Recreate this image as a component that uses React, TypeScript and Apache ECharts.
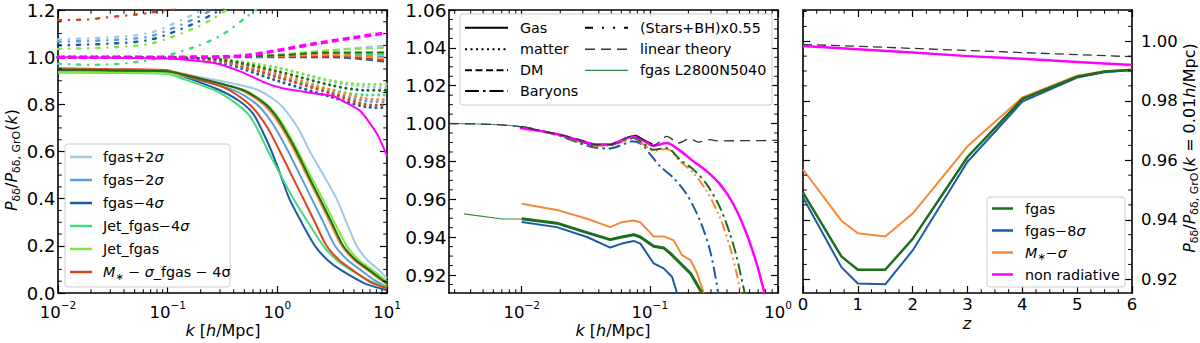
import React, { useEffect, useRef } from "react";
import * as echarts from "echarts";

const FONT = "DejaVu Sans";
const TICK_FS = 16.5;

// ================= LEFT PANEL (x = log10 k) =================
// Gas ratio (solid)
const gasFgasP2 = [[-2, 0.945], [-1.5, 0.943], [-1, 0.938], [-0.7, 0.915], [-0.2, 0.865], [0, 0.81], [0.1, 0.76], [0.2, 0.69], [0.297, 0.6], [0.42, 0.5], [0.54, 0.4], [0.63, 0.3], [0.723, 0.2], [0.82, 0.14], [0.92, 0.1], [1, 0.063]];
const gasFgasM2 = [[-2, 0.945], [-1.5, 0.943], [-1, 0.938], [-0.85, 0.92], [-0.4, 0.86], [-0.2, 0.805], [-0.1, 0.755], [0.0, 0.685], [0.1, 0.6], [0.207, 0.5], [0.313, 0.4], [0.42, 0.3], [0.525, 0.2], [0.64, 0.14], [0.753, 0.1], [0.9, 0.05], [1, 0.025]];
const gasFgasM4 = [[-2, 0.945], [-1.5, 0.942], [-1, 0.936], [-0.9, 0.925], [-0.55, 0.865], [-0.35, 0.815], [-0.22, 0.76], [-0.14, 0.69], [-0.052, 0.6], [0.03, 0.5], [0.109, 0.4], [0.22, 0.3], [0.343, 0.2], [0.457, 0.14], [0.571, 0.1], [0.8, 0.04], [1, 0.012]];
const gasJetM4 = [[-2, 0.935], [-1.5, 0.933], [-1, 0.93], [-0.9, 0.915], [-0.55, 0.855], [-0.38, 0.805], [-0.26, 0.755], [-0.17, 0.685], [-0.083, 0.6], [0.03, 0.5], [0.146, 0.4], [0.28, 0.3], [0.419, 0.2], [0.54, 0.14], [0.662, 0.1], [0.85, 0.05], [1, 0.025]];
const gasJet = [[-2, 0.935], [-1.5, 0.934], [-1, 0.932], [-0.8, 0.915], [-0.3, 0.86], [-0.11, 0.805], [-0.01, 0.755], [0.09, 0.685], [0.19, 0.6], [0.3, 0.5], [0.413, 0.4], [0.52, 0.3], [0.632, 0.2], [0.745, 0.14], [0.86, 0.1], [1, 0.05]];
const gasMstarFgasM4 = [[-2, 0.953], [-1.5, 0.949], [-1, 0.945], [-0.9, 0.93], [-0.48, 0.87], [-0.28, 0.81], [-0.176, 0.76], [-0.076, 0.69], [0.024, 0.6], [0.13, 0.5], [0.237, 0.4], [0.343, 0.3], [0.449, 0.2], [0.563, 0.14], [0.677, 0.1], [0.85, 0.045], [1, 0.02]];
const gasMstar = [[-2, 0.95], [-1.5, 0.946], [-1, 0.941], [-0.8, 0.922], [-0.34, 0.862], [-0.14, 0.805], [-0.04, 0.755], [0.06, 0.685], [0.16, 0.6], [0.267, 0.5], [0.374, 0.4], [0.48, 0.3], [0.586, 0.2], [0.7, 0.14], [0.814, 0.1], [1, 0.035]];
const gasFgas = [[-2, 0.948], [-1.5, 0.945], [-1, 0.94], [-0.8, 0.92], [-0.32, 0.862], [-0.12, 0.805], [-0.02, 0.755], [0.076, 0.685], [0.176, 0.6], [0.28, 0.5], [0.388, 0.4], [0.495, 0.3], [0.6, 0.2], [0.715, 0.14], [0.83, 0.1], [1, 0.04]];
const gasNonRad = [[-2, 1.0], [-1, 0.994], [-0.58, 0.975], [-0.34, 0.94], [-0.1, 0.89], [0.056, 0.867], [0.208, 0.856], [0.36, 0.845], [0.51, 0.835], [0.6, 0.814], [0.757, 0.772], [0.91, 0.674], [1, 0.582]];

// Matter ratio (dotted) sampled at kMat
const kMat = [-2, -1, -0.5, 0, 0.5, 0.8, 1];
const matFgasP2 = [1.0, 0.998, 0.99, 0.955, 0.895, 0.875, 0.87];
const matFgasM2 = [1.0, 0.997, 0.985, 0.925, 0.85, 0.815, 0.81];
const matFgasM4 = [1.0, 0.996, 0.975, 0.9, 0.83, 0.79, 0.785];
const matJetM4 = [1.0, 0.997, 0.98, 0.915, 0.86, 0.84, 0.84];
const matJet = [1.0, 0.998, 0.99, 0.955, 0.9, 0.885, 0.885];
const matMstarFgasM4 = [1.0, 0.997, 0.982, 0.915, 0.845, 0.8, 0.795];
const matMstar = [1.0, 0.997, 0.985, 0.93, 0.86, 0.825, 0.82];
const matFgas = [1.0, 0.998, 0.988, 0.94, 0.88, 0.86, 0.86];

// DM ratio (dashed) sampled at kDM
const kDM = [-2, -1, -0.5, 0, 0.5, 1];
const dmFgasP2 = [1, 1, 1, 1.01, 1.03, 1.05];
const dmJet = [1, 1, 1, 1.01, 1.03, 1.04];
const dmFgas = [1, 1, 1, 1.008, 1.02, 1.02];
const dmJetM4 = [1, 1, 1, 1.005, 1.015, 1.01];
const dmMstar = [1, 1, 1, 1.005, 1.01, 0.995];
const dmFgasM2 = [1, 1, 1, 1.005, 1.012, 1.0];
const dmMstarFgasM4 = [1, 1, 1, 1.003, 1.005, 0.985];
const dmFgasM4 = [1, 1, 1, 1.0, 1.0, 0.98];
const dmNonRad = [[-2, 1.0], [-1, 1.0], [-0.5, 1.002], [-0.25, 1.009], [0.358, 1.058], [0.66, 1.08], [1.0, 1.104]];

// (Stars+BH) ratio (sparse dash-dot-dot)
const starsFgasP2 = [[-2, 1.075], [-1.5, 1.085], [-1.15, 1.105], [-0.77, 1.18], [-0.6, 1.22]];
const starsFgasM2 = [[-2, 1.065], [-1.5, 1.073], [-1.15, 1.09], [-0.77, 1.16], [-0.6, 1.2], [-0.5, 1.23]];
const starsFgasM4 = [[-2, 1.05], [-1.5, 1.058], [-1.15, 1.075], [-0.77, 1.14], [-0.6, 1.18], [-0.45, 1.22]];
const starsJet = [[-2, 1.035], [-1.5, 1.042], [-1.15, 1.058], [-0.77, 1.12], [-0.6, 1.16], [-0.4, 1.22]];
const starsJetM4 = [[-2, 0.972], [-1.7, 0.967], [-1.2, 0.985], [-0.75, 1.044], [-0.5, 1.096], [-0.27, 1.175], [-0.15, 1.22]];
const starsMstarFgasM4 = [[-2, 1.157], [-1.72, 1.16], [-1.59, 1.167], [-1.3, 1.18], [-1.15, 1.189], [-0.9, 1.21]];

// ================= MIDDLE PANEL (x = log10 k) =================
const midLinear = [[-2.567, 1.0], [-2.3, 0.9997], [-2.04, 0.9986], [-1.727, 0.9945], [-1.55, 0.9915], [-1.415, 0.9889], [-1.311, 0.9889], [-1.22, 0.9915], [-1.13, 0.9935], [-1.05, 0.9915], [-0.973, 0.9885], [-0.92, 0.9905], [-0.869, 0.9932], [-0.82, 0.9915], [-0.778, 0.9897], [-0.687, 0.992], [-0.622, 0.9902], [-0.531, 0.9915], [-0.48, 0.9909], [0, 0.9911]];
const midL2800Top = [[-2.567, 1.0], [-2.3, 0.9997], [-2.04, 0.9986], [-1.727, 0.9945], [-1.415, 0.9889], [-1.311, 0.9889]];
const midGasTop = [[-2.008, 0.9979], [-1.727, 0.9944], [-1.423, 0.9889], [-1.311, 0.9889], [-1.111, 0.9937], [-1.05, 0.9915], [-0.981, 0.9892]];
const midNonRad = [[-2.013, 0.9976], [-1.727, 0.9945], [-1.55, 0.9912], [-1.415, 0.9889], [-1.311, 0.9889], [-1.22, 0.9912], [-1.13, 0.9932], [-1.05, 0.991], [-0.973, 0.9882], [-0.869, 0.9897], [-0.765, 0.9857], [-0.661, 0.9801], [-0.557, 0.9749], [-0.453, 0.968], [-0.349, 0.9575], [-0.245, 0.9418], [-0.167, 0.9261], [-0.115, 0.913], [-0.1, 0.909]];
const midBarFgas = [[-2.0, 0.9984], [-1.727, 0.9943], [-1.415, 0.9885], [-1.311, 0.9887], [-1.13, 0.9925], [-1.05, 0.9895], [-0.973, 0.9862], [-0.869, 0.9871], [-0.765, 0.981], [-0.661, 0.9758], [-0.557, 0.968], [-0.453, 0.9557], [-0.375, 0.9418], [-0.323, 0.9296], [-0.271, 0.9139], [-0.255, 0.909]];
const midStarsMstar = [[-2.0, 0.9982], [-1.727, 0.9941], [-1.415, 0.9883], [-1.311, 0.9884], [-1.13, 0.992], [-1.05, 0.989], [-0.973, 0.9857], [-0.869, 0.9866], [-0.765, 0.9801], [-0.661, 0.974], [-0.557, 0.9644], [-0.453, 0.9505], [-0.375, 0.9348], [-0.323, 0.9209], [-0.297, 0.9122], [-0.29, 0.909]];
const midBarFgasM8 = [[-2.0, 0.9983], [-1.727, 0.994], [-1.475, 0.988], [-1.319, 0.9868], [-1.181, 0.9897], [-1.137, 0.9906], [-1.059, 0.9889], [-1.0, 0.984], [-0.921, 0.9775], [-0.817, 0.9714], [-0.713, 0.9627], [-0.609, 0.9488], [-0.531, 0.9331], [-0.479, 0.9157], [-0.465, 0.909]];
const midGasFgas = [[-2.0, 0.9497], [-1.726, 0.9474], [-1.49, 0.9424], [-1.309, 0.9387], [-1.218, 0.9401], [-1.126, 0.9413], [-1.074, 0.9401], [-0.97, 0.9352], [-0.892, 0.9343], [-0.84, 0.9314], [-0.761, 0.9261], [-0.683, 0.9209], [-0.631, 0.9148], [-0.592, 0.9104]];
const midGasL2800 = [[-2.45, 0.9523], [-2.151, 0.9496], [-2.0, 0.9496]];
const midGasFgasM8 = [[-2.0, 0.948], [-1.726, 0.9453], [-1.49, 0.9401], [-1.309, 0.9345], [-1.218, 0.9366], [-1.126, 0.938], [-1.074, 0.9366], [-0.97, 0.9261], [-0.892, 0.9235], [-0.827, 0.9191], [-0.787, 0.9104]];
const midGasMstar = [[-2.0, 0.9576], [-1.726, 0.9544], [-1.49, 0.9497], [-1.309, 0.9453], [-1.218, 0.9479], [-1.126, 0.9488], [-1.074, 0.9479], [-0.97, 0.9404], [-0.892, 0.9404], [-0.814, 0.9383], [-0.748, 0.9305], [-0.683, 0.9279], [-0.631, 0.9209], [-0.579, 0.9104]];

// ================= RIGHT PANEL (x = z) =================
const zVals = [0, 0.7, 1, 1.5, 2, 3, 4, 5, 5.5, 6];
const zFgas = [0.9491, 0.9277, 0.9232, 0.9232, 0.9336, 0.9611, 0.9806, 0.9881, 0.9898, 0.9903];
const zFgasM8 = [0.9475, 0.9241, 0.9186, 0.9183, 0.9297, 0.9595, 0.9797, 0.9878, 0.9896, 0.9903];
const zMstar = [0.9569, 0.9397, 0.9355, 0.9344, 0.9421, 0.9647, 0.9811, 0.9884, 0.9899, 0.9905];
const zLin = [0, 1, 2, 3, 4, 5, 6];
const zNonRad = [0.9984, 0.9973, 0.9962, 0.995, 0.9941, 0.993, 0.992];
const zLinear = [0.9989, 0.9983, 0.9976, 0.9969, 0.9962, 0.9955, 0.9948];

// tick positions
const leftXMajors = [-2, -1, 0, 1];
const leftYMajors = [0, 0.2, 0.4, 0.6, 0.8, 1.0, 1.2];
const midXMajors = [-2, -1, 0];
const midYMajors = [0.92, 0.94, 0.96, 0.98, 1.0, 1.02, 1.04, 1.06];
const rightXMajors = [0, 1, 2, 3, 4, 5, 6];
const rightYMajors = [0.92, 0.94, 0.96, 0.98, 1.0];

// colors
const C_LB = "#a3c8e6";
const C_MB = "#5aa0d6";
const C_DB = "#1c5aa6";
const C_JG4 = "#3fdd7a";
const C_JG = "#82e83a";
const C_RED = "#d8441c";
const C_OR = "#f7883a";
const C_DG = "#1d6d1d";
const C_MAG = "#ff00ff";
const C_L2800 = "#2e8b3e";

const zip = (xs: number[], ys: number[]) => xs.map((x, i) => [x, ys[i]]);

function logMinors(lo: number, hi: number) {
  const out: number[] = [];
  for (let n = -4; n <= 2; n++) {
    for (let m = 2; m <= 9; m++) {
      const v = Math.log10(m) + n;
      if (v > lo && v < hi) out.push(v);
    }
  }
  return out;
}
function linMinors(lo: number, hi: number, step: number, majorStep: number) {
  const out: number[] = [];
  const s = Math.ceil(lo / step - 1e-9);
  for (let i = s; i * step <= hi + 1e-9; i++) {
    const v = i * step;
    const r = v / majorStep;
    if (Math.abs(r - Math.round(r)) > 1e-6 && v >= lo && v <= hi) out.push(+v.toFixed(6));
  }
  return out;
}

const AXLINE = { show: true, onZero: false, lineStyle: { color: "#000", width: 1.6 } };
const TICKSTYLE = { color: "#000", width: 1.2 };

const powFmt = (v: number) => {
  const e = Math.round(v);
  return `{b|10}{s|${e < 0 ? "−" : ""}${Math.abs(e)}}`;
};
const powRich = {
  b: { fontSize: TICK_FS, fontFamily: FONT, color: "#000", lineHeight: 22, verticalAlign: "bottom" },
  s: { fontSize: 10.5, fontFamily: FONT, color: "#000", lineHeight: 12, verticalAlign: "top" },
};

function xAxes(grid: number, min: number, max: number, majors: number[], fmt: any, rich: any, margin: number) {
  const base: any = { type: "value", gridIndex: grid, min, max, splitLine: { show: false }, axisLine: AXLINE };
  return [
    {
      ...base,
      position: "bottom",
      axisTick: { show: true, inside: true, length: 7, customValues: majors, lineStyle: TICKSTYLE },
      axisLabel: { show: true, customValues: majors, formatter: fmt, rich, color: "#000", fontSize: TICK_FS, fontFamily: FONT, margin, showMinLabel: true, showMaxLabel: true, hideOverlap: false },
    },
    {
      ...base,
      position: "top",
      axisTick: { show: true, inside: true, length: 7, customValues: majors, lineStyle: TICKSTYLE },
      axisLabel: { show: false },
    },
  ];
}
function yAxes(grid: number, min: number, max: number, majors: number[], fmt: any, side: "left" | "right", margin: number, fs: number) {
  const base: any = { type: "value", gridIndex: grid, min, max, splitLine: { show: false }, axisLine: AXLINE };
  const lab = { show: true, customValues: majors, formatter: fmt, color: "#000", fontSize: fs, lineHeight: 15, fontFamily: FONT, margin, showMinLabel: true, showMaxLabel: true, hideOverlap: false };
  return [
    {
      ...base,
      position: "left",
      axisTick: { show: true, inside: true, length: 7, customValues: majors, lineStyle: TICKSTYLE },
      axisLabel: side === "left" ? lab : { show: false },
    },
    {
      ...base,
      position: "right",
      axisTick: { show: true, inside: true, length: 7, customValues: majors, lineStyle: TICKSTYLE },
      axisLabel: side === "right" ? lab : { show: false },
    },
  ];
}

function minorTicks(idx: number, dim: "x" | "y", values: number[], other: number) {
  return {
    type: "custom",
    xAxisIndex: idx,
    yAxisIndex: idx,
    silent: true,
    z: 6,
    animation: false,
    data: values.map((v) => (dim === "x" ? [v, other] : [other, v])),
    encode: { x: 0, y: 1 },
    renderItem: (params: any, api: any) => {
      const cs = params.coordSys;
      const p = api.coord([api.value(0), api.value(1)]);
      const st = { stroke: "#000", lineWidth: 1 };
      const len = 3.8;
      if (dim === "x") {
        return {
          type: "group",
          children: [
            { type: "line", shape: { x1: p[0], y1: cs.y + cs.height, x2: p[0], y2: cs.y + cs.height - len }, style: st },
            { type: "line", shape: { x1: p[0], y1: cs.y, x2: p[0], y2: cs.y + len }, style: st },
          ],
        };
      }
      return {
        type: "group",
        children: [
          { type: "line", shape: { x1: cs.x, y1: p[1], x2: cs.x + len, y2: p[1] }, style: st },
          { type: "line", shape: { x1: cs.x + cs.width, y1: p[1], x2: cs.x + cs.width - len, y2: p[1] }, style: st },
        ],
      };
    },
  };
}

function ln(idx: number, data: any[], color: string, width: number, type: any = "solid", opts: any = {}) {
  return {
    type: "line",
    xAxisIndex: idx,
    yAxisIndex: idx,
    data,
    showSymbol: false,
    symbol: "none",
    silent: true,
    animation: false,
    smooth: opts.smooth ?? false,
    z: opts.z ?? 2,
    lineStyle: { color, width, type, cap: opts.cap ?? "butt", join: "round" },
    emphasis: { disabled: true },
  };
}

// ---------- graphics helpers ----------
const LEG_FS = 14.3;
const legRich = {
  i: { fontStyle: "italic", fontSize: LEG_FS, fontFamily: FONT, fill: "#000", lineHeight: 18 },
  sub: { fontSize: 10, fontFamily: FONT, fill: "#000", lineHeight: 10, verticalAlign: "bottom" },
};
function gText(x: number, y: number, text: string, extra: any = {}) {
  return {
    type: "text",
    x,
    y,
    z: 120,
    silent: true,
    style: {
      text,
      fontSize: LEG_FS,
      fontFamily: FONT,
      fill: "#000",
      align: "left",
      verticalAlign: "middle",
      textAlign: "left",
      textVerticalAlign: "middle",
      lineHeight: 18,
      rich: legRich,
      ...extra,
    },
  };
}
function gLine(x1: number, x2: number, y: number, stroke: string, lineWidth: number, lineDash?: number[]) {
  return { type: "line", z: 120, silent: true, shape: { x1, y1: y, x2, y2: y }, style: { stroke, lineWidth, lineDash: lineDash || null } };
}
function gBox(x: number, y: number, w: number, h: number) {
  return {
    type: "rect",
    z: 110,
    silent: true,
    shape: { x, y, width: w, height: h, r: 3 },
    style: { fill: "rgba(255,255,255,0.85)", stroke: "#cccccc", lineWidth: 1 },
  };
}

const titleRich = {
  i: { fontStyle: "italic", fontSize: 16, fontFamily: FONT, fill: "#000", lineHeight: 22 },
  n: { fontSize: 16, fontFamily: FONT, fill: "#000", lineHeight: 22 },
  sub: { fontSize: 11, fontFamily: FONT, fill: "#000", lineHeight: 11, verticalAlign: "bottom" },
};
function gTitle(x: number, y: number, text: string, rotate = false) {
  return {
    type: "text",
    x,
    y,
    z: 120,
    rotation: rotate ? Math.PI / 2 : 0,
    silent: true,
    style: {
      text,
      fontSize: 16,
      fontFamily: FONT,
      fill: "#000",
      align: "center",
      verticalAlign: "middle",
      textAlign: "center",
      textVerticalAlign: "middle",
      lineHeight: 22,
      rich: titleRich,
    },
  };
}

function buildOption() {
  const GT = 10;
  const GH = 283;
  const grids = [
    { left: 58, top: GT, width: 329, height: GH, containLabel: false, outerBoundsMode: "none" },
    { left: 449, top: GT, width: 329, height: GH, containLabel: false, outerBoundsMode: "none" },
    { left: 803, top: GT, width: 329, height: GH, containLabel: false, outerBoundsMode: "none" },
  ];
  const midXMin = -2.567;
  const midYMin = 0.9105;
  const rYMin = 0.9154;
  const rYMax = 1.0105;

  const xAxis = [
    ...xAxes(0, -2, 1, leftXMajors, powFmt, powRich, 6),
    ...xAxes(1, midXMin, 0, midXMajors, powFmt, powRich, 6),
    ...xAxes(2, 0, 6, rightXMajors, (v: number) => String(Math.round(v)), undefined, 3),
  ];
  const yAxis = [
    ...yAxes(0, 0, 1.2, leftYMajors, (v: number) => v.toFixed(1), "left", 2.5, 18),
    ...yAxes(1, midYMin, 1.06, midYMajors, (v: number) => v.toFixed(2), "left", 2.5, 18.5),
    ...yAxes(2, rYMin, rYMax, rightYMajors, (v: number) => v.toFixed(2), "right", 9, 16.5),
  ];

  const DOT = [0.1, 5.5];
  const DASH = [7, 4];
  const STARS = [3, 8, 0.1, 8];
  const DASHDOT = [12, 4, 2.5, 4];
  const DASHDOTDOT = [10, 3.5, 2, 3.5, 2, 3.5];

  const leftModels: [string, any[], number[], number[], string][] = [
    ["fgas+2", gasFgasP2, matFgasP2, dmFgasP2, C_LB],
    ["fgas-2", gasFgasM2, matFgasM2, dmFgasM2, C_MB],
    ["fgas-4", gasFgasM4, matFgasM4, dmFgasM4, C_DB],
    ["jet-4", gasJetM4, matJetM4, dmJetM4, C_JG4],
    ["jet", gasJet, matJet, dmJet, C_JG],
    ["mstar-fgas-4", gasMstarFgasM4, matMstarFgasM4, dmMstarFgasM4, C_RED],
    ["mstar", gasMstar, matMstar, dmMstar, C_OR],
    ["fgas", gasFgas, matFgas, dmFgas, C_DG],
  ];

  const series: any[] = [];
  leftModels.forEach(([, , mat, dm, c]) => {
    series.push(ln(0, zip(kDM, dm), c, 2, DASH, { smooth: 0.3 }));
    series.push(ln(0, zip(kMat, mat), c, 3, DOT, { smooth: 0.3, cap: "round" }));
  });
  series.push(ln(0, starsFgasP2, C_LB, 2.5, STARS, { cap: "round", smooth: 0.3 }));
  series.push(ln(0, starsFgasM2, C_MB, 2.5, STARS, { cap: "round", smooth: 0.3 }));
  series.push(ln(0, starsFgasM4, C_DB, 2.5, STARS, { cap: "round", smooth: 0.3 }));
  series.push(ln(0, starsJet, C_JG, 2.5, STARS, { cap: "round", smooth: 0.3 }));
  series.push(ln(0, starsJetM4, C_JG4, 2.5, STARS, { cap: "round", smooth: 0.3 }));
  series.push(ln(0, starsMstarFgasM4, C_RED, 2.5, STARS, { cap: "round", smooth: 0.3 }));
  series.push(ln(0, dmNonRad, C_MAG, 3.5, DASH, { smooth: 0.3, z: 3 }));
  series.push(ln(0, gasNonRad, C_MAG, 2, "solid", { smooth: 0.2, z: 4 }));
  leftModels.forEach(([, gas, , , c]) => {
    series.push(ln(0, gas, c, 2, "solid", { smooth: 0.25, z: 4 }));
  });

  series.push(ln(2, midL2800Top, C_L2800, 1, "solid", { smooth: 0.3 }));
  series.push(ln(2, midGasTop, "#000", 1.5, "solid", { smooth: 0.3 }));
  series.push(ln(2, midBarFgasM8, C_DB, 2, DASHDOT, { smooth: 0.3 }));
  series.push(ln(2, midStarsMstar, C_OR, 2, DASHDOTDOT, { smooth: 0.3 }));
  series.push(ln(2, midBarFgas, C_DG, 2, DASHDOT, { smooth: 0.3 }));
  series.push(ln(2, midNonRad, C_MAG, 2.5, "solid", { smooth: 0.3, z: 3 }));
  series.push(ln(2, midLinear, "#333333", 1.3, [10, 6], { smooth: 0.3, z: 3 }));
  series.push(ln(2, midGasL2800, C_L2800, 1.1, "solid"));
  series.push(ln(2, midGasMstar, C_OR, 2, "solid"));
  series.push(ln(2, midGasFgasM8, C_DB, 2, "solid"));
  series.push(ln(2, midGasFgas, C_DG, 3, "solid"));

  series.push(ln(4, zip(zLin, zLinear), "#333333", 1.3, [9, 5]));
  series.push(ln(4, zip(zLin, zNonRad), C_MAG, 2.5, "solid"));
  series.push(ln(4, zip(zVals, zMstar), C_OR, 2, "solid"));
  series.push(ln(4, zip(zVals, zFgasM8), C_DB, 2, "solid"));
  series.push(ln(4, zip(zVals, zFgas), C_DG, 2.5, "solid"));

  series.push(minorTicks(0, "x", logMinors(-2, 1), 0.5));
  series.push(minorTicks(0, "y", linMinors(0, 1.2, 0.05, 0.2), -1));
  series.push(minorTicks(2, "x", logMinors(midXMin, 0), 0.95));
  series.push(minorTicks(2, "y", linMinors(midYMin, 1.06, 0.005, 0.02), -1));
  series.push(minorTicks(4, "x", linMinors(0, 6, 0.25, 1), 0.95));
  series.push(minorTicks(4, "y", linMinors(rYMin, rYMax, 0.005, 0.02), 3));

  const graphic: any[] = [];
  graphic.push(gBox(65, 144, 165, 143));
  const leftLeg: [string, string][] = [
    ["fgas+2{i|σ}", C_LB],
    ["fgas−2{i|σ}", C_MB],
    ["fgas−4{i|σ}", C_DB],
    ["Jet_fgas−4{i|σ}", C_JG4],
    ["Jet_fgas", C_JG],
    ["{i|M}{sub|∗} − {i|σ}_fgas − 4σ", C_RED],
  ];
  leftLeg.forEach(([t, c], i) => {
    const y = 157 + i * 23;
    graphic.push(gLine(70, 92, y, c, 2.5));
    graphic.push(gText(103, y, t));
  });
  graphic.push(gBox(460, 14, 312, 91));
  const midRows = [27.7, 49.3, 70.3, 91];
  const midLeg1: [string, number[] | undefined][] = [
    ["Gas", undefined],
    ["matter", [2, 3.5]],
    ["DM", [7, 3.5]],
    ["Baryons", [14, 4, 2.5, 4]],
  ];
  midLeg1.forEach(([t, d], i) => {
    graphic.push(gLine(465, 508, midRows[i], "#000", 2, d));
    graphic.push(gText(520, midRows[i], t));
  });
  graphic.push(gLine(585, 628, midRows[0], "#000", 2, [8, 9, 2, 9, 2, 9]));
  graphic.push(gText(640, midRows[0], "(Stars+BH)x0.55"));
  graphic.push(gLine(585, 628, midRows[1], "#333333", 1.4, [10, 6]));
  graphic.push(gText(640, midRows[1], "linear theory"));
  graphic.push(gLine(585, 628, midRows[2], C_L2800, 1.2));
  graphic.push(gText(640, midRows[2], "fgas L2800N5040"));
  graphic.push(gBox(987, 197, 138, 90));
  const rightLeg: [string, string][] = [
    ["fgas", C_DG],
    ["fgas−8{i|σ}", C_DB],
    ["{i|M}{sub|∗}−{i|σ}", C_OR],
    ["non radiative", C_MAG],
  ];
  rightLeg.forEach(([t, c], i) => {
    const y = 208.5 + i * 22;
    graphic.push(gLine(992, 1013, y, c, 2.5));
    graphic.push(gText(1025, y, t));
  });
  graphic.push(gTitle(223, 330, "{i|k}{n| [}{i|h}{n|/Mpc]}"));
  graphic.push(gTitle(613, 330, "{i|k}{n| [}{i|h}{n|/Mpc]}"));
  graphic.push(gTitle(967, 323, "{i|z}"));
  graphic.push(gTitle(11, 160, "{i|P}{sub|δδ}{n|/}{i|P}{sub|δδ, GrO}{n|(}{i|k}{n|)}", true));
  graphic.push(gTitle(1189, 148, "{i|P}{sub|δδ}{n|/}{i|P}{sub|δδ, GrO}{n|(}{i|k}{n| = 0.01}{i|h}{n|/Mpc)}", true));

  return {
    animation: false,
    backgroundColor: "#ffffff",
    textStyle: { fontFamily: FONT },
    grid: grids,
    xAxis,
    yAxis,
    series,
    graphic,
  };
}

export default function App() {
  const ref = useRef<HTMLDivElement>(null);
  useEffect(() => {
    if (!ref.current) return;
    const chart = echarts.init(ref.current, undefined, { renderer: "svg" });
    chart.setOption(buildOption() as any);
    return () => chart.dispose();
  }, []);
  return <div ref={ref} style={{ position: "fixed", left: 0, top: 0, width: 1200, height: 343, background: "#fff" }} />;
}
